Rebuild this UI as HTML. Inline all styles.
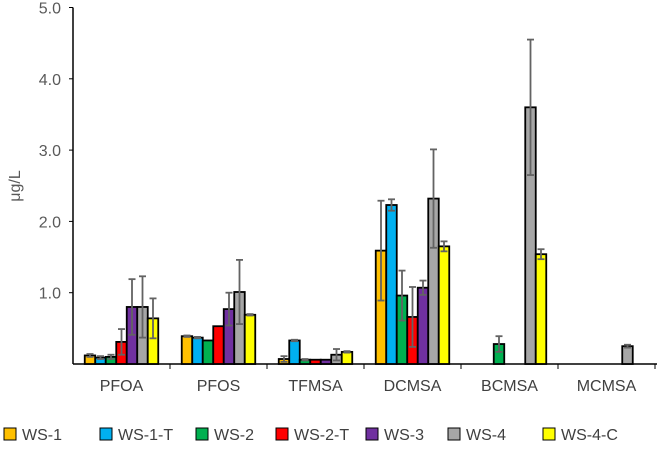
<!DOCTYPE html>
<html><head><meta charset="utf-8"><style>
body{margin:0;background:#fff;}
svg text{font-family:"Liberation Sans",sans-serif;}
</style></head><body>
<svg id="chart" width="657" height="445" xmlns="http://www.w3.org/2000/svg"></svg>
<script>
const categories=["PFOA","PFOS","TFMSA","DCMSA","BCMSA","MCMSA"];
const seriesNames=["WS-1","WS-1-T","WS-2","WS-2-T","WS-3","WS-4","WS-4-C"];
const seriesColors=["#FFC000","#00B0F0","#00B050","#FF0000","#7030A0","#A6A6A6","#FFFF00"];
const ws1=[0.12,0.39,0.07,1.59,null,null];
const ws1t=[0.09,0.37,0.33,2.23,null,null];
const ws2=[0.10,0.33,0.06,0.96,0.28,null];
const ws2t=[0.31,0.53,0.06,0.66,null,null];
const ws3=[0.80,0.77,0.06,1.07,null,null];
const ws4=[0.80,1.01,0.13,2.32,3.60,0.25];
const ws4c=[0.64,0.69,0.17,1.65,1.54,null];
const err1=[0.02,0.01,0.04,0.70,0,0];
const err1t=[0.02,0.01,0.01,0.08,0,0];
const err2=[0.03,0,0.01,0.35,0.11,0];
const err2t=[0.18,0,0,0.42,0,0];
const err3=[0.39,0.23,0,0.10,0,0];
const err4=[0.43,0.45,0.08,0.69,0.95,0.02];
const err4c=[0.28,0.01,0.01,0.07,0.07,0];
const yTicks=[1,2,3,4,5];
const yTickLabels=["1.0","2.0","3.0","4.0","5.0"];

const series=[ws1,ws1t,ws2,ws2t,ws3,ws4,ws4c];
const errs=[err1,err1t,err2,err2t,err3,err4,err4c];
const NS="http://www.w3.org/2000/svg";
const svg=document.getElementById("chart");
const X0=73,CW=97,Y0=364,YU=71.3,BW=10.5;
const y=v=>Y0-v*YU;
const xBar=(c,s)=>X0+c*CW+(CW-BW*7)/2+s*BW;
function el(t,a,p){const e=document.createElementNS(NS,t);for(const k in a)e.setAttribute(k,a[k]);(p||svg).appendChild(e);return e;}

const ax=el("line",{x1:X0,y1:Y0,x2:657,y2:Y0,stroke:"#000","stroke-width":1.5});


const ay=el("line",{x1:X0,y1:y(5),x2:X0,y2:Y0,stroke:"#000","stroke-width":1.5});


yTicks.forEach((v,i)=>{
  el("line",{x1:X0-4,y1:y(v),x2:X0,y2:y(v),stroke:"#000","stroke-width":1});
  const t=el("text",{x:X0-12,y:y(v)+6,"text-anchor":"end","font-size":16,fill:"#595959"});
  t.textContent=yTickLabels[i];
  
  
});
const yl=el("text",{x:0,y:0,"text-anchor":"middle","font-size":16,fill:"#595959",transform:"translate(20,186) rotate(-90)"});
yl.textContent="μg/L";



categories.forEach((c,ci)=>{
  el("line",{x1:X0+(ci+1)*CW,y1:Y0,x2:X0+(ci+1)*CW,y2:Y0+5,stroke:"#000","stroke-width":1});
  const t=el("text",{x:X0+ci*CW+CW/2,y:Y0+27,"text-anchor":"middle","font-size":16,fill:"#404040"});
  t.textContent=c;
  
  
  series.forEach((s,si)=>{
    const v=s[ci]; if(v==null) return;
    const r=el("rect",{x:xBar(ci,si),y:y(v),width:BW,height:v*YU,fill:seriesColors[si],stroke:"#000","stroke-width":1.8});
    
    
    const e=errs[si][ci];
    if(e>0){
      const cx=xBar(ci,si)+BW/2;
      const g=el("g",{stroke:"#636363","stroke-width":1.8});
      
      
      el("line",{x1:cx,y1:y(v-e),x2:cx,y2:y(v+e)},g);
      el("line",{x1:cx-3.5,y1:y(v-e),x2:cx+3.5,y2:y(v-e)},g);
      el("line",{x1:cx-3.5,y1:y(v+e),x2:cx+3.5,y2:y(v+e)},g);
    }
  });
});

const legX=[4,100,196,276,366,448,543];
seriesNames.forEach((n,i)=>{
  const g=el("g",{});
  
  
  el("rect",{x:legX[i],y:428,width:12,height:12,fill:seriesColors[i],stroke:"#000","stroke-width":1},g);
  const t=el("text",{x:legX[i]+18,y:440,"font-size":16,fill:"#404040"},g);
  t.textContent=n;
});
</script>
</body></html>
